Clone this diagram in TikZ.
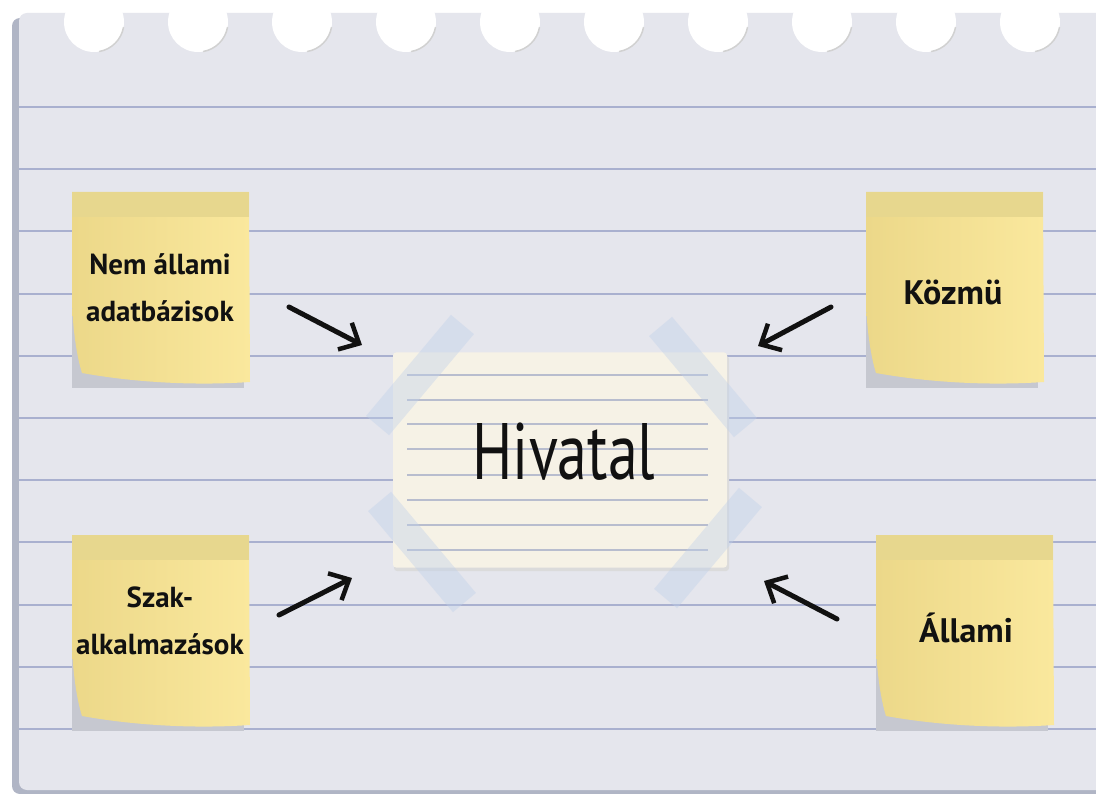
\documentclass[tikz,border=0pt]{standalone}
\usepackage{fontspec}
\usepackage{graphicx}
\setmainfont{PT Sans}
\usetikzlibrary{arrows.meta}

\definecolor{paper}{HTML}{E5E6ED}
\definecolor{paperedge}{HTML}{B0B5C5}
\definecolor{ruleblue}{HTML}{A9B0CF}
\definecolor{cardfill}{HTML}{F6F2E6}
\definecolor{cardblue}{HTML}{B8BDCE}
\definecolor{tapeblue}{HTML}{BFD0EA}
\definecolor{notedark}{HTML}{ECD889}
\definecolor{notelight}{HTML}{FAE89D}
\definecolor{noteband}{HTML}{E7D78E}
\definecolor{noteshadow}{HTML}{C6C8D0}
\definecolor{inkblack}{HTML}{111111}

\begin{document}
\begin{tikzpicture}[x=1pt,y=-1pt,
  rule/.style={draw=ruleblue, line width=2pt},
  cardrule/.style={draw=cardblue, line width=1.4pt},
  tape/.style={fill=tapeblue, fill opacity=0.4, minimum width=132pt,
    minimum height=30pt, inner sep=0pt},
  hand/.style={font=\fontsize{29}{47}\selectfont\bfseries, align=center, text=inkblack},
  handbig/.style={hand, font=\fontsize{34}{47}\selectfont\bfseries},
  bigarrow/.style={draw=inkblack, line width=5pt, line cap=round,
    -{Straight Barb[length=16pt,width=30pt,line width=4.5pt]}},
  note/.pic={
    % shadow showing under the curled corner
    \fill[noteshadow] (0,30) rectangle (172,196);
    % paper body with a curled lower-left corner
    \shade[left color=notedark, right color=notelight]
      (0,0) -- (177,0) -- (178,190)
      .. controls (120,194) and (60,190) .. (10,181)
      .. controls (5,165) and (1,140) .. (0,110) -- cycle;
    % adhesive strip
    \fill[noteband] (0,0) rectangle (177,25);
  }
]
\useasboundingbox (0,0) rectangle (1096,794);
\fill[white] (0,0) rectangle (1096,794);

% notebook page with its shadow
\fill[paperedge, rounded corners=8pt] (12,18) rectangle (1120,794);
\fill[paper, rounded corners=8pt] (19,13) rectangle (1120,790);

% punched holes along the top
\foreach \k in {0,...,9}{
  \fill[white] (94+104*\k,22) circle[radius=30];
  \draw[black!18, line width=1.5pt] (94+104*\k,22) ++(10:30) arc[start angle=10, end angle=80, radius=30];
}

% ruled lines
\foreach \ry in {107,169,231,294,356,418,480,542,605,667,729}{
  \draw[rule] (19,\ry) -- (1096,\ry);
}

% sticky notes
\pic at (72,192) {note};
\pic at (866,192) {note};
\pic at (72,535) {note};
\pic at (876,535) {note};

\node[hand] (nemallami) at (160,288) {Nem állami\\adatbázisok};
\node[handbig] (kozmu) at (953,292) {Közmü};
\node[hand] (szak) at (160,621) {Szak-\\alkalmazások};
\node[handbig] (allami) at (966,628) {Állami};

% index card in the middle
\fill[black!14, rounded corners=3pt] (394,356) rectangle (729,571);
\node[fill=cardfill, rounded corners=3pt, minimum width=334pt, minimum height=215pt,
  inner sep=0pt] (card) at (560,460) {};
\foreach \cy in {375,400,424,449,475,500,525,550}{
  \draw[cardrule] (407,\cy) -- (708,\cy);
}
\node[font=\fontsize{80}{80}\selectfont, text=inkblack] (hivatal) at (564,452)
  {\scalebox{0.75}[1]{Hivatal}};

% tape pieces on the corners of the card
\node[tape, rotate=50] (tapetl) at (420,375) {};
\node[tape, rotate=-50] (tapetr) at (703,377) {};
\node[tape, rotate=-50] (tapebl) at (422,552) {};
\node[tape, rotate=50] (tapebr) at (708,548) {};

% arrows pointing to the card
\coordinate (a1s) at (289,307); \coordinate (a1e) at (362,345);
\coordinate (a2s) at (831,307); \coordinate (a2e) at (758,346);
\coordinate (a3s) at (279,615); \coordinate (a3e) at (352,578);
\coordinate (a4s) at (837,619); \coordinate (a4e) at (764,581);
\draw[bigarrow] (a1s) -- (a1e);
\draw[bigarrow] (a2s) -- (a2e);
\draw[bigarrow] (a3s) -- (a3e);
\draw[bigarrow] (a4s) -- (a4e);
\end{tikzpicture}
\end{document}
